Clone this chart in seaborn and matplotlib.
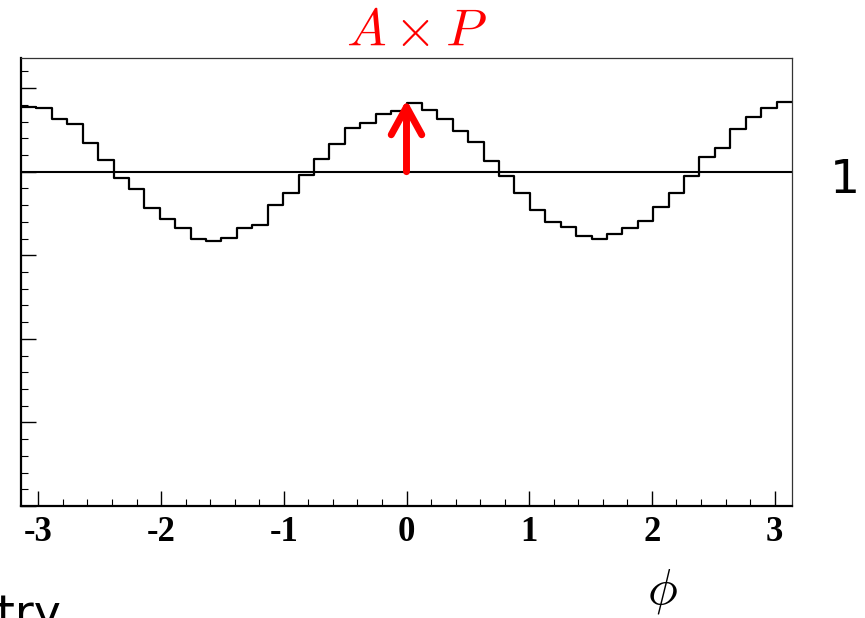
import numpy as np
import pandas as pd
import matplotlib
matplotlib.use("Agg")
import matplotlib.pyplot as plt
import seaborn as sns
from matplotlib.ticker import MultipleLocator, FixedLocator

# 50 equal-width bins in phi over [-pi, pi]
n_bins = 50
bin_values = [
    1.193, 1.190, 1.159, 1.143, 1.086, 1.034, 0.982, 0.948, 0.891, 0.859,
    0.831, 0.800, 0.794, 0.803, 0.832, 0.841, 0.900, 0.935, 0.991, 1.038,
    1.082, 1.130, 1.147, 1.173, 1.182, 1.206, 1.185, 1.159, 1.122, 1.090,
    1.032, 0.987, 0.936, 0.885, 0.850, 0.835, 0.809, 0.800, 0.814, 0.831,
    0.853, 0.895, 0.935, 0.988, 1.045, 1.072, 1.127, 1.165, 1.191, 1.207,
]
reference_level = 1.0
arrow_top = 1.215
x_tick_values = [-3, -2, -1, 0, 1, 2, 3]
x_tick_labels = ["-3", "-2", "-1", "0", "1", "2", "3"]

edges = np.linspace(-np.pi, np.pi, n_bins + 1)
centers = 0.5 * (edges[:-1] + edges[1:])
df = pd.DataFrame({"phi": centers, "w": bin_values})

sns.set_style("white")
plt.rcParams.update({
    "mathtext.fontset": "cm",
    "text.color": "black",
    "xtick.color": "black",
    "ytick.color": "black",
    "axes.edgecolor": "black",
})

fig = plt.figure(figsize=(8.65, 6.18), dpi=100)
ax = fig.add_axes([21 / 865, 1 - 506 / 618, (792 - 21) / 865, (506 - 58) / 618])

sns.histplot(data=df, x="phi", weights="w", bins=n_bins,
             binrange=(-np.pi, np.pi), element="step",
             fill=False, color="black", linewidth=1.6, ax=ax)

ax.axhline(reference_level, color="black", linewidth=1.5)
ax.annotate("", xy=(0, arrow_top), xytext=(0, reference_level),
            arrowprops=dict(arrowstyle="->,head_length=1.0,head_width=0.55",
                            color="red", lw=5, mutation_scale=20,
                            shrinkA=0, shrinkB=0))

ax.set_xlim(-np.pi, np.pi)
ax.set_ylim(0, 1.34)
ax.set_xlabel("")
ax.set_ylabel("")

ax.xaxis.set_major_locator(FixedLocator(x_tick_values))
ax.set_xticklabels(x_tick_labels, fontfamily="Liberation Serif",
                   fontweight="bold", fontsize=25, color="black")
ax.xaxis.set_minor_locator(MultipleLocator(0.2))
ax.yaxis.set_major_locator(MultipleLocator(0.25))
ax.yaxis.set_minor_locator(MultipleLocator(0.05))
ax.tick_params(axis="x", which="major", direction="in", length=10.5,
               width=1.0, pad=7, bottom=True, top=False)
ax.tick_params(axis="x", which="minor", direction="in", length=5,
               width=0.8, bottom=True, top=False)
ax.tick_params(axis="y", which="major", direction="in", length=10.5,
               width=1.0, left=True, right=False, labelleft=False)
ax.tick_params(axis="y", which="minor", direction="in", length=5,
               width=0.8, left=True, right=False)

for side in ("left", "bottom"):
    ax.spines[side].set_linewidth(1.6)
    ax.spines[side].set_color("black")
for side in ("top", "right"):
    ax.spines[side].set_linewidth(0.9)
    ax.spines[side].set_color("#333333")

fig.text(416 / 865, 1 - 46 / 618, r"$A\times P$", color="red", fontsize=38,
         ha="center", va="baseline")
fig.text(662 / 865, 1 - 592 / 618, r"$\phi$", fontsize=36, color="black",
         ha="center", va="center")
fig.text(845 / 865, 1 - 193 / 618, "1", fontsize=34, color="black",
         fontfamily="DejaVu Sans", ha="center", va="baseline")
fig.text(62 / 865, -10 / 618, "Asymmetry", fontsize=33, color="black",
         fontfamily="DejaVu Sans", ha="right", va="baseline")

fig.savefig("out.png", dpi=100)
